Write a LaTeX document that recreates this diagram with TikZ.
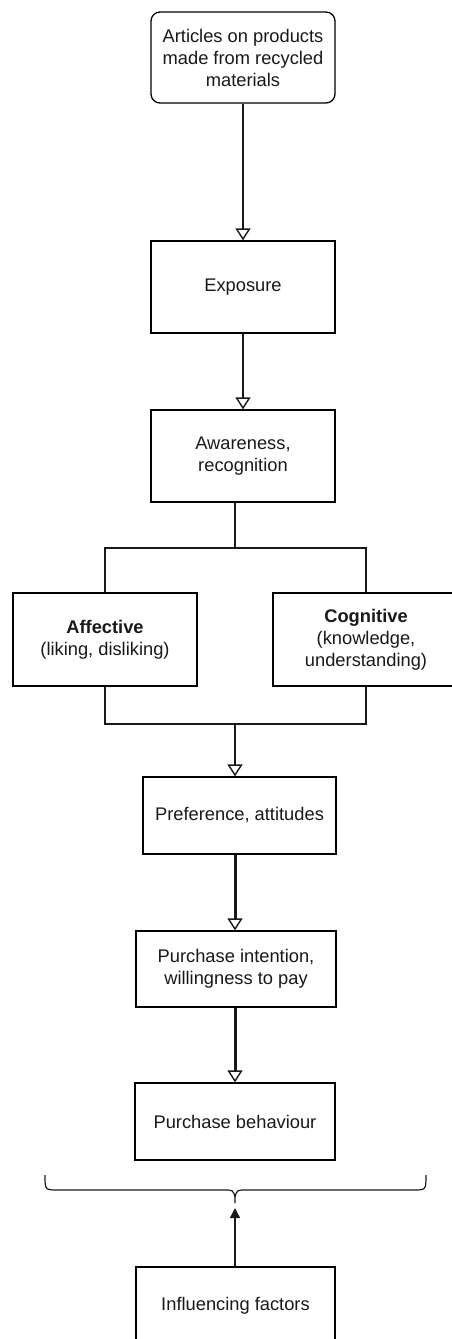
\documentclass[tikz,border=0pt]{standalone}
\usepackage{fontspec}
\setmainfont{Liberation Sans}
\usetikzlibrary{arrows.meta,calc}
\begin{document}
\begin{tikzpicture}[x=1pt,y=-1pt,
  box/.style={draw=black,line width=1.3pt,fill=white,align=center,inner sep=0pt,
    font=\fontsize{18.3}{22}\selectfont,text=black!90},
  conn/.style={line width=1.3pt,draw=black!90},
  thick conn/.style={line width=3pt,draw=black!90},
  opentip/.style={-{Triangle[open,length=12pt,width=15pt,line width=1.4pt]}},
  filltip/.style={-{Triangle[length=10pt,width=10pt]}}]
\useasboundingbox (0,0) rectangle (451,1339);
\node[box,rounded corners=9pt,minimum width=184pt,minimum height=91pt] (src) at (243,57.5)
  {Articles on products\\made from recycled\\materials};
\node[box,minimum width=184pt,minimum height=92pt] (exp) at (243,287) {Exposure};
\node[box,minimum width=184pt,minimum height=92pt] (aw) at (243,456) {Awareness,\\recognition};
\node[box,minimum width=184pt,minimum height=93pt] (aff) at (105,639.5)
  {\textbf{Affective}\\(liking, disliking)};
\node[box,minimum width=186pt,minimum height=93pt] (cog) at (366,639.5)
  {\textbf{Cognitive}\\(knowledge,\\understanding)};
\node[box,minimum width=193pt,minimum height=77pt] (pref) at (239.5,815.5) {Preference, attitudes};
\node[box,minimum width=200pt,minimum height=76pt] (pi) at (236,969)
  {Purchase intention,\\willingness to pay};
\node[box,minimum width=200pt,minimum height=77pt] (pb) at (235,1121.5) {Purchase behaviour};
\node[box,minimum width=199pt,minimum height=77pt] (inf) at (235.5,1305.5) {Influencing factors};
\coordinate (j1) at (235,548);
\coordinate (j2) at (235,724);
\coordinate (bt) at (235,1203);
\coordinate (at) at (235,1208);
% connectors
\draw[conn,opentip] (src.south) -- (exp.north);
\draw[conn,opentip] (exp.south) -- (aw.north);
\draw[conn] (aw.south -| j1) -- (j1);
\draw[conn] (aff.north) -- (aff.north |- j1) -- (cog.north |- j1) -- (cog.north);
\draw[conn] (aff.south) -- (aff.south |- j2) -- (cog.south |- j2) -- (cog.south);
\draw[conn,opentip] (j2) -- (pref.north -| j2);
\draw[thick conn,opentip] (pref.south -| j2) -- (pi.north -| j2);
\draw[thick conn,opentip] (pi.south -| j2) -- (pb.north -| j2);
% brace
\draw[conn,line width=1.2pt] (45,1175) .. controls (45,1190) .. (58,1190) -- (224,1190)
  .. controls (233,1190) .. (235,1197) -- (bt);
\draw[conn,line width=1.2pt] (426,1175) .. controls (426,1190) .. (413,1190) -- (246,1190)
  .. controls (237,1190) .. (235,1197);
\draw[conn,filltip] (inf.north -| at) -- (at);
\end{tikzpicture}
\end{document}
